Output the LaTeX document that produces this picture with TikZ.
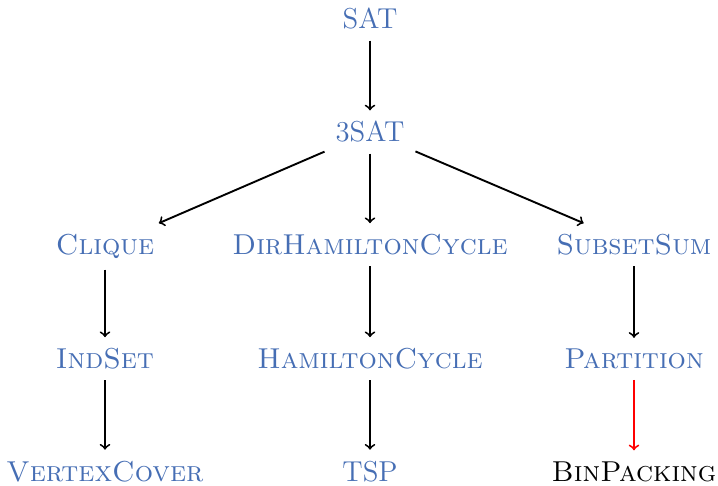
\documentclass[tikz,border=0pt]{standalone}
\begin{document}
\definecolor{nodeblue}{RGB}{70,110,180}
\tikzset{
  prob/.style={anchor=base, text=nodeblue, font=\Large, inner sep=5.3pt},
  probblack/.style={anchor=base, text=black, font=\Large, inner sep=5.3pt},
  arr/.style={->, line width=0.95pt, black},
  redarr/.style={->, line width=0.95pt, draw=red},
}
\begin{tikzpicture}[x=0.5pt, y=-0.5pt]
\useasboundingbox (0,0) rectangle (718,486);
\node[prob] (sat) at (370,29) {SAT};
\node[prob] (tsat) at (370,142) {3SAT};
\node[prob] (clique) at (105,254.5) {\textsc{Clique}};
\node[prob] (dhc) at (370,254.5) {\textsc{DirHamiltonCycle}};
\node[prob] (ssum) at (634,254.5) {\textsc{SubsetSum}};
\node[prob] (indset) at (105,368.5) {\textsc{IndSet}};
\node[prob] (hc) at (370,368.5) {\textsc{HamiltonCycle}};
\node[prob] (part) at (634,368.5) {\textsc{Partition}};
\node[prob] (vc) at (105,481) {\textsc{VertexCover}};
\node[prob] (tsp) at (370,481) {TSP};
\node[probblack] (bp) at (634,481) {\textsc{BinPacking}};
\draw[arr] (sat) -- (tsat);
\draw[arr] (tsat) -- (clique);
\draw[arr] (tsat) -- (dhc);
\draw[arr] (tsat) -- (ssum);
\draw[arr] (clique) -- (indset);
\draw[arr] (indset) -- (vc);
\draw[arr] (dhc) -- (hc);
\draw[arr] (hc) -- (tsp);
\draw[arr] (ssum) -- (part);
\draw[redarr] (part) -- (bp);
\end{tikzpicture}
\end{document}
